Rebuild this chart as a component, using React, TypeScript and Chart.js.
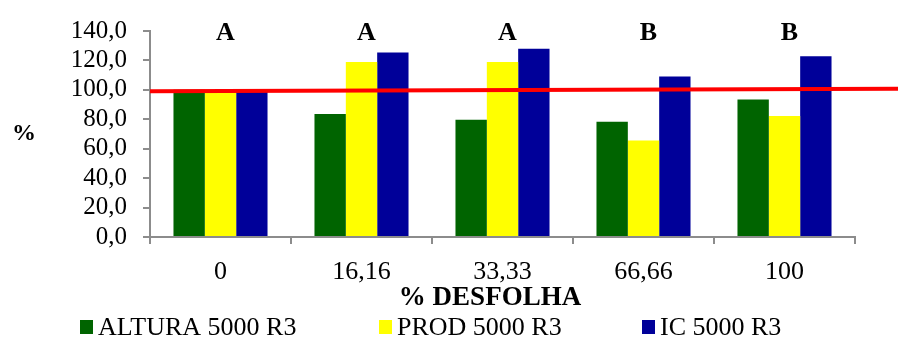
import React, { useEffect, useRef } from "react";
import { Chart, registerables } from "chart.js";

Chart.register(...registerables);

// Defoliation levels (% DESFOLHA) and the three measured responses, in % of control
const categories = ["0", "16,16", "33,33", "66,66", "100"];
const altura = [100, 83.6, 79.7, 78.4, 93.5];
const prod = [100, 118.9, 118.9, 65.6, 82.3];
const ic = [100, 125.4, 127.9, 109.0, 122.8];
const groupLetters = ["A", "A", "A", "B", "B"];
const seriesNames = ["ALTURA 5000 R3", "PROD 5000 R3", "IC 5000 R3"];
const yTicks = [0, 20, 40, 60, 80, 100, 120, 140];
// Control reference line (drawn a touch tilted, as in the original sheet)
const refLeft = 99.1;
const refRight = 100.8;

const COLORS = ["#006400", "#ffff00", "#000099"];
const SERIF = "'Liberation Serif', 'Times New Roman', serif";

const overlay = {
  id: "overlay",
  afterDatasetsDraw(chart: any) {
    const { ctx, chartArea, scales } = chart;
    const x = scales.x;
    const y = scales.y;
    ctx.save();

    // red reference line running past the plot to the canvas edge
    ctx.strokeStyle = "#ff0000";
    ctx.lineWidth = 4;
    ctx.beginPath();
    ctx.moveTo(chartArea.left, y.getPixelForValue(refLeft));
    ctx.lineTo(chart.width, y.getPixelForValue(refRight));
    ctx.stroke();

    // significance letters above each group
    ctx.fillStyle = "#000";
    ctx.font = `bold 26px ${SERIF}`;
    ctx.textAlign = "center";
    ctx.textBaseline = "middle";
    groupLetters.forEach((l, i) => {
      ctx.fillText(l, x.getPixelForValue(i) + 5, 33);
    });

    // y title
    ctx.font = `bold 24px ${SERIF}`;
    ctx.fillText("%", 24, 134);

    // x title
    ctx.font = `bold 27px ${SERIF}`;
    ctx.fillText("% DESFOLHA", 490, 298);

    // legend
    const itemX = [80, 379, 642];
    ctx.font = `26px ${SERIF}`;
    ctx.textAlign = "left";
    seriesNames.forEach((name, i) => {
      ctx.fillStyle = COLORS[i];
      ctx.fillRect(itemX[i], 320, 13, 14);
      ctx.fillStyle = "#000";
      ctx.fillText(name, itemX[i] + 18, 328);
    });
    ctx.restore();
  },
};

export default function App() {
  const ref = useRef<HTMLCanvasElement>(null);

  useEffect(() => {
    if (!ref.current) return;
    const chart = new Chart(ref.current, {
      type: "bar",
      data: {
        labels: categories,
        datasets: [altura, prod, ic].map((d, i) => ({
          label: seriesNames[i],
          data: d,
          backgroundColor: COLORS[i],
          borderWidth: 0,
          categoryPercentage: 0.667,
          barPercentage: 1.0,
        })),
      },
      options: {
        responsive: false,
        animation: false,
        layout: { padding: { left: 0, right: 43, top: 22, bottom: 0 } },
        plugins: {
          legend: { display: false },
          tooltip: { enabled: false },
        },
        scales: {
          x: {
            grid: {
              offset: true,
              drawOnChartArea: false,
              drawTicks: true,
              tickLength: 7,
              color: "#8c8c8c",
              lineWidth: 2,
            },
            border: { color: "#8c8c8c", width: 2 },
            ticks: {
              color: "#000",
              font: { family: SERIF, size: 26 },
              padding: 13,
              maxRotation: 0,
              autoSkip: false,
            },
            afterFit: (s: any) => {
              s.height = 101;
            },
          },
          y: {
            min: 0,
            max: 140,
            afterBuildTicks: (s: any) => {
              s.ticks = yTicks.map((v) => ({ value: v }));
            },
            grid: {
              drawOnChartArea: false,
              drawTicks: true,
              tickLength: 7,
              color: "#8c8c8c",
              lineWidth: 2,
            },
            border: { color: "#8c8c8c", width: 2 },
            ticks: {
              color: "#000",
              font: { family: SERIF, size: 25 },
              padding: 16,
              autoSkip: false,
              callback: (v: any) => Number(v).toFixed(1).replace(".", ","),
            },
            afterFit: (s: any) => {
              s.width = 150;
            },
          },
        },
      },
      plugins: [overlay],
    });
    return () => chart.destroy();
  }, []);

  return (
    <div style={{ position: "absolute", left: 0, top: 0, width: 898, height: 338, background: "#fff" }}>
      <canvas ref={ref} width={898} height={338} />
    </div>
  );
}
